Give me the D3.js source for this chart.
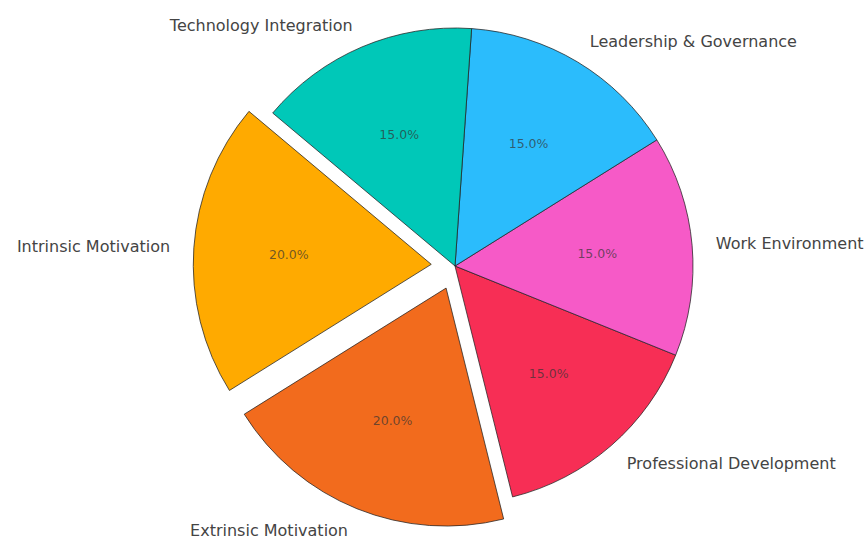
<!DOCTYPE html>
<html lang="en">
<head>
  <meta charset="UTF-8">
  <title>pie</title>
  <script src="https://d3js.org/d3.v7.min.js"></script>
  <style>
    body { margin: 0; background: #fff; }
    text { font-family: "DejaVu Sans", sans-serif; }
  </style>
</head>
<body>
  <div class="canvas"></div>
  <script>
    const categories = ['Intrinsic Motivation', 'Extrinsic Motivation', 'Professional Development',
                        'Work Environment', 'Leadership & Governance', 'Technology Integration'];
    const shares = [20, 20, 15, 15, 15, 15];
    const explode = [0.1, 0.1, 0, 0, 0, 0];
    const colors = ['#ffaa00', '#f26b1d', '#f72e55', '#f65ac7', '#2bbcfc', '#00c8b8'];

    const width = 867;
    const height = 539;
    const [cx, cy, r] = [455, 266, 238];
    const startDeg = 140; // matplotlib style: counter-clockwise from 3 o'clock

    const svg = d3.select('.canvas')
                  .append('svg')
                  .attr('width', width)
                  .attr('height', height);

    const graph = svg.append('g')
                     .attr('transform', `translate(${cx}, ${cy})`);

    const a0 = (90 - startDeg) * Math.PI / 180;
    const pie = d3.pie()
                  .sort(null)
                  .value(d => d)
                  .startAngle(a0)
                  .endAngle(a0 - 2 * Math.PI);

    const arcs = pie(shares);
    const arc = d3.arc().innerRadius(0).outerRadius(r);
    const total = d3.sum(shares);

    const dir = d => {
      const m = (d.startAngle + d.endAngle) / 2;
      return [Math.sin(m), -Math.cos(m)];
    };

    const slices = graph.selectAll('g.slice')
      .data(arcs)
      .enter()
      .append('g')
      .attr('class', 'slice')
      .attr('transform', (d, i) => {
        const [ux, uy] = dir(d);
        return `translate(${ux * explode[i] * r}, ${uy * explode[i] * r})`;
      });

    slices.append('path')
      .attr('d', arc)
      .attr('fill', (d, i) => colors[i])
      .attr('stroke', '#222')
      .attr('stroke-opacity', 0.75)
      .attr('stroke-width', 1);

    // percent labels
    slices.append('text')
      .attr('x', d => dir(d)[0] * 0.6 * r)
      .attr('y', d => dir(d)[1] * 0.6 * r)
      .attr('text-anchor', 'middle')
      .attr('dominant-baseline', 'central')
      .attr('font-size', 12.5)
      .attr('fill', '#333')
      .attr('fill-opacity', 0.7)
      .text(d => (d.value / total * 100).toFixed(1) + '%');

    // category labels
    slices.append('text')
      .attr('x', d => dir(d)[0] * 1.1 * r)
      .attr('y', d => dir(d)[1] * 1.1 * r)
      .attr('text-anchor', d => dir(d)[0] >= 0 ? 'start' : 'end')
      .attr('dominant-baseline', 'central')
      .attr('font-size', 16)
      .attr('fill', '#444')
      .text((d, i) => categories[i]);
  </script>
</body>
</html>
